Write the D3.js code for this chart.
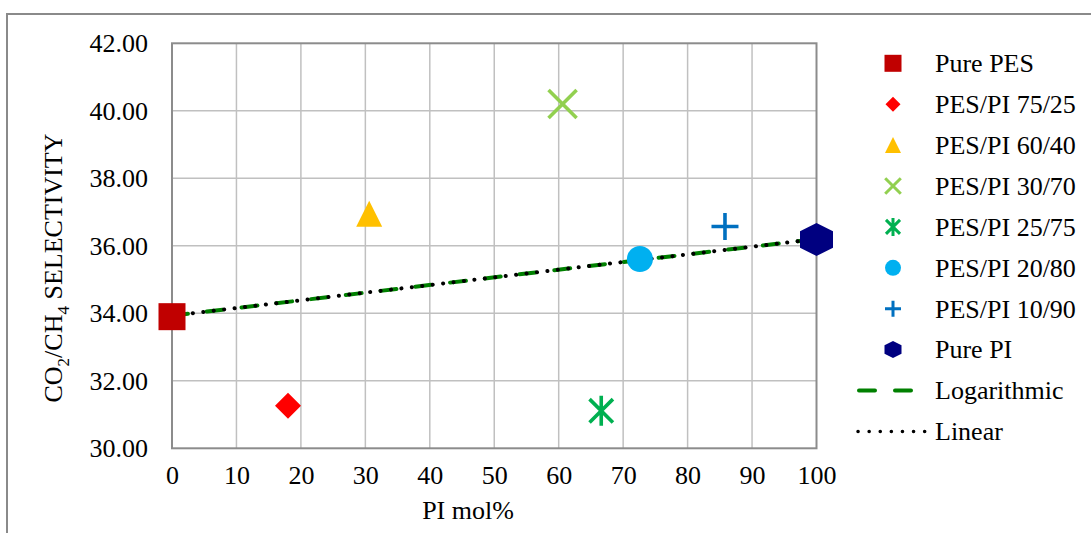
<!DOCTYPE html>
<html>
<head>
<meta charset="utf-8">
<script src="https://cdn.jsdelivr.net/npm/d3@7"></script>
<style>
  body { margin: 0; background: #fff; }
  svg text { font-family: "Liberation Serif", "Times New Roman", "Tinos", "DejaVu Serif", serif; fill: #000; }
</style>
</head>
<body>
<svg id="chart" width="1091" height="533"></svg>
<script>
// data
var seriesNames = ['Pure PES', 'PES/PI 75/25', 'PES/PI 60/40', 'PES/PI 30/70',
  'PES/PI 25/75', 'PES/PI 20/80', 'PES/PI 10/90', 'Pure PI'];
var piMol = [0, 18, 30.6, 60.6, 66.6, 72.6, 85.8, 100];
var selectivity = [33.9, 31.26, 36.95, 40.2, 31.11, 35.61, 36.57, 36.19];
var markerShapes = ['square', 'diamond', 'triangle', 'x', 'asterisk', 'circle', 'plus', 'hexagon'];
var markerColors = ['#C00000', '#FF0000', '#FFC000', '#92D050', '#00B050', '#00B0F0', '#0070C0', '#000080'];

// trendlines (two end points each)
var trendX = [0, 100];
var logTrendY = [33.93, 36.2];
var linearTrendY = [33.93, 36.2];

var xTicks = [0, 10, 20, 30, 40, 50, 60, 70, 80, 90, 100];
var yTicks = [30, 32, 34, 36, 38, 40, 42];

var fontFamily = '"Liberation Serif", "Times New Roman", "Tinos", "DejaVu Serif", serif';
var fontSize = '26px';

var svg = d3.select('#chart');

// outer chart border
svg.append('rect')
  .attr('x', 7).attr('y', 14)
  .attr('width', 1100).attr('height', 540)
  .attr('fill', 'none')
  .attr('stroke', '#8a8a8a')
  .attr('stroke-width', 2);

var plot = { left: 172, right: 816.5, top: 43.3, bottom: 448.3 };

var x = d3.scaleLinear().domain([0, 100]).range([plot.left, plot.right]);
var y = d3.scaleLinear().domain([30, 42]).range([plot.bottom, plot.top]);

// gridlines
var grid = svg.append('g');
grid.selectAll('line.v').data(xTicks.slice(1, -1)).enter().append('line')
  .attr('x1', function(d) { return x(d); }).attr('x2', function(d) { return x(d); })
  .attr('y1', plot.top).attr('y2', plot.bottom)
  .attr('stroke', '#c0c0c0').attr('stroke-width', 1.5);
grid.selectAll('line.h').data(yTicks.slice(1, -1)).enter().append('line')
  .attr('x1', plot.left).attr('x2', plot.right)
  .attr('y1', function(d) { return y(d); }).attr('y2', function(d) { return y(d); })
  .attr('stroke', '#c0c0c0').attr('stroke-width', 1.5);

// plot area border
svg.append('rect')
  .attr('x', plot.left).attr('y', plot.top)
  .attr('width', plot.right - plot.left).attr('height', plot.bottom - plot.top)
  .attr('fill', 'none')
  .attr('stroke', '#8c8c8c').attr('stroke-width', 2);

// tick labels via d3 axes (domain and tick lines hidden)
var xAxis = svg.append('g')
  .attr('transform', 'translate(0,' + (plot.bottom + 14) + ')')
  .call(d3.axisBottom(x).tickValues(xTicks).tickSize(0).tickFormat(d3.format('d')));
xAxis.attr('font-family', null).attr('font-size', null);
xAxis.select('.domain').remove();
xAxis.selectAll('text')
  .style('font-family', fontFamily)
  .style('font-size', fontSize)
  .attr('fill', '#000');

var yAxis = svg.append('g')
  .attr('transform', 'translate(' + 148 + ',0)')
  .call(d3.axisLeft(y).tickValues(yTicks).tickSize(0).tickFormat(d3.format('.2f')));
yAxis.attr('font-family', null).attr('font-size', null);
yAxis.select('.domain').remove();
yAxis.selectAll('text')
  .style('font-family', fontFamily)
  .style('font-size', fontSize)
  .attr('x', 0)
  .attr('fill', '#000');

// axis titles
svg.append('text')
  .attr('x', 468).attr('y', 519)
  .attr('text-anchor', 'middle')
  .style('font-size', fontSize)
  .text('PI mol%');

var yTitle = svg.append('text')
  .attr('transform', 'translate(62,268) rotate(-90)')
  .attr('text-anchor', 'middle')
  .style('font-size', fontSize);
yTitle.append('tspan').text('CO');
yTitle.append('tspan').attr('dy', 7).style('font-size', '17px').text('2');
yTitle.append('tspan').attr('dy', -7).text('/CH');
yTitle.append('tspan').attr('dy', 7).style('font-size', '17px').text('4');
yTitle.append('tspan').attr('dy', -7).text(' SELECTIVITY');

// trendlines
var line = d3.line()
  .x(function(d) { return x(d[0]); })
  .y(function(d) { return y(d[1]); });

svg.append('path')
  .datum(d3.zip(trendX, logTrendY))
  .attr('d', line)
  .attr('fill', 'none')
  .attr('stroke', '#008000')
  .attr('stroke-width', 4)
  .attr('stroke-linecap', 'round')
  .attr('stroke-dasharray', '16,19');

svg.append('path')
  .datum(d3.zip(trendX, linearTrendY))
  .attr('d', line)
  .attr('fill', 'none')
  .attr('stroke', '#000')
  .attr('stroke-width', 4)
  .attr('stroke-linecap', 'round')
  .attr('stroke-dasharray', '0.1,10.4');

// marker drawing helper
function drawMarker(g, shape, color, s) {
  var h = s / 2;
  if (shape === 'square') {
    g.append('rect').attr('x', -h).attr('y', -h).attr('width', s).attr('height', s).attr('fill', color);
  } else if (shape === 'diamond') {
    g.append('path').attr('d', 'M0,' + (-h) + 'L' + h + ',0L0,' + h + 'L' + (-h) + ',0Z').attr('fill', color);
  } else if (shape === 'triangle') {
    g.append('path').attr('d', 'M0,' + (-h) + 'L' + h + ',' + h + 'L' + (-h) + ',' + h + 'Z').attr('fill', color);
  } else if (shape === 'circle') {
    g.append('circle').attr('r', h).attr('fill', color);
  } else if (shape === 'hexagon') {
    var q = h / 2;
    g.append('path')
      .attr('d', 'M0,' + (-h) + 'L' + h + ',' + (-q) + 'L' + h + ',' + q + 'L0,' + h +
        'L' + (-h) + ',' + q + 'L' + (-h) + ',' + (-q) + 'Z')
      .attr('fill', color);
  } else {
    var d = '';
    var k = h * 0.78;
    if (shape === 'x' || shape === 'asterisk') {
      d += 'M' + (-k) + ',' + (-k) + 'L' + k + ',' + k + 'M' + k + ',' + (-k) + 'L' + (-k) + ',' + k;
    }
    if (shape === 'asterisk') {
      d += 'M0,' + (-h) + 'L0,' + h;
    }
    if (shape === 'plus') {
      d += 'M' + (-h) + ',0L' + h + ',0M0,' + (-h) + 'L0,' + h;
    }
    g.append('path').attr('d', d).attr('fill', 'none')
      .attr('stroke', color).attr('stroke-width', s > 20 ? 3.6 : 3);
  }
}

var plotSizes = { square: 27, diamond: 26, triangle: 26, x: 36, asterisk: 30, circle: 26, plus: 27, hexagon: 33 };
var legendSizes = { square: 17, diamond: 15, triangle: 16, x: 20, asterisk: 18, circle: 16, plus: 16, hexagon: 17 };

// data markers
seriesNames.forEach(function(name, i) {
  var g = svg.append('g')
    .attr('transform', 'translate(' + x(piMol[i]) + ',' + y(selectivity[i]) + ')');
  drawMarker(g, markerShapes[i], markerColors[i], plotSizes[markerShapes[i]]);
});

// legend
var legendTop = 63.3;
var legendStep = 40.9;
var legend = svg.append('g');

seriesNames.forEach(function(name, i) {
  var cy = legendTop + i * legendStep;
  var g = legend.append('g').attr('transform', 'translate(893,' + cy + ')');
  drawMarker(g, markerShapes[i], markerColors[i], legendSizes[markerShapes[i]]);
  legend.append('text')
    .attr('x', 935).attr('y', cy)
    .attr('dy', '0.34em')
    .style('font-size', fontSize)
    .text(name);
});

var logY = legendTop + 8 * legendStep;
legend.append('line')
  .attr('x1', 859).attr('x2', 913)
  .attr('y1', logY).attr('y2', logY)
  .attr('stroke', '#008000').attr('stroke-width', 4)
  .attr('stroke-linecap', 'round')
  .attr('stroke-dasharray', '16,20');
legend.append('text')
  .attr('x', 935).attr('y', logY).attr('dy', '0.34em')
  .style('font-size', fontSize)
  .text('Logarithmic');

var linY = legendTop + 9 * legendStep;
legend.append('line')
  .attr('x1', 858).attr('x2', 925)
  .attr('y1', linY).attr('y2', linY)
  .attr('stroke', '#000').attr('stroke-width', 3.5)
  .attr('stroke-linecap', 'round')
  .attr('stroke-dasharray', '0.1,11');
legend.append('text')
  .attr('x', 935).attr('y', linY).attr('dy', '0.34em')
  .style('font-size', fontSize)
  .text('Linear');
</script>
</body>
</html>
